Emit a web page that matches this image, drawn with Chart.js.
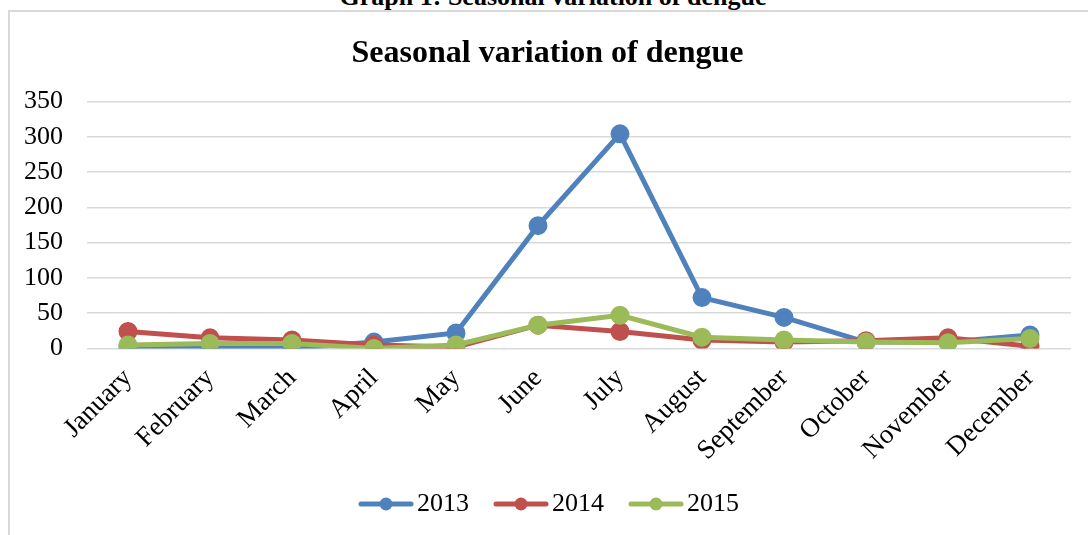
<!DOCTYPE html>
<html>
<head>
<meta charset="utf-8">
<script src="https://cdn.jsdelivr.net/npm/chart.js@4"></script>
<style>
  html, body { margin: 0; padding: 0; background: #fff; overflow: hidden; }
  body { width: 1088px; height: 535px; position: relative; font-family: "Liberation Serif", serif; }
  .legenda { position: absolute; top: -18px; left: 0; width: 1106px; text-align: center;
             font: bold 26px "Liberation Serif", serif; color: #000; }
  .moldura { position: absolute; left: 8px; top: 10px; width: 1100px; height: 540px;
             border: 2px solid #d9d9d9; box-sizing: border-box; background: #fff; }
  .caixa { position: absolute; left: 9px; top: 12px; width: 1088px; height: 523px; }
</style>
</head>
<body>
<div class="legenda">Graph 1: Seasonal variation of dengue</div>
<div class="moldura"></div>
<div class="caixa"><canvas id="g"></canvas></div>
<script>
  // dados
  const meses = ["January", "February", "March", "April", "May", "June",
                 "July", "August", "September", "October", "November", "December"];
  const anos = ["2013", "2014", "2015"];
  const casos2013 = [3, 0, 0, 9, 22, 174, 304, 72, 44, 9, 9, 19];
  const casos2014 = [24, 15, 12, 5, 2, 33, 24, 12, 9, 11, 15, 3];
  const casos2015 = [5, 7, 7, 0, 5, 33, 47, 16, 12, 9, 8, 14];
  const ticksY = [0, 50, 100, 150, 200, 250, 300, 350];

  const CORES = { azul: "#4F81BD", vermelho: "#C0504D", verde: "#9BBB59" };
  const FONTE = "'Liberation Serif', 'Times New Roman', serif";

  // ícone da legenda: linha com bolinha no meio (estilo Excel)
  // a imagem é mais larga que a caixa para encostar a linha no texto
  function iconeLegenda(cor) {
    const c = document.createElement("canvas");
    c.width = 68; c.height = 16;
    const ctx = c.getContext("2d");
    ctx.strokeStyle = cor; ctx.lineWidth = 5; ctx.lineCap = "round";
    ctx.beginPath(); ctx.moveTo(15, 8); ctx.lineTo(65, 8); ctx.stroke();
    ctx.fillStyle = cor;
    ctx.beginPath(); ctx.arc(40, 8, 6.5, 0, Math.PI * 2); ctx.fill();
    return c;
  }

  function serie(label, data, cor, ordem) {
    return {
      label, data, order: ordem,
      borderColor: cor, backgroundColor: cor,
      borderWidth: 5, pointRadius: 7, pointHoverRadius: 7,
      pointBackgroundColor: cor, pointBorderColor: cor,
      pointStyle: "circle", tension: 0,
    };
  }

  const icones = [iconeLegenda(CORES.azul), iconeLegenda(CORES.vermelho), iconeLegenda(CORES.verde)];

  new Chart(document.getElementById("g"), {
    type: "line",
    data: {
      labels: meses,
      datasets: [
        serie(anos[0], casos2013, CORES.azul, 2),
        serie(anos[1], casos2014, CORES.vermelho, 1),
        serie(anos[2], casos2015, CORES.verde, 0),
      ],
    },
    options: {
      responsive: true, maintainAspectRatio: false, animation: false,
      layout: { padding: { left: 15, right: 26, top: 8, bottom: 8 } },
      plugins: {
        title: {
          display: true, text: "Seasonal variation of dengue", color: "#000",
          font: { family: FONTE, size: 32, weight: "bold" },
          padding: { top: 15, bottom: 28 },
        },
        legend: {
          position: "bottom",
          labels: {
            usePointStyle: true, pointStyleWidth: 48, padding: 22,
            color: "#000", font: { family: FONTE, size: 26 },
            generateLabels: (chart) => chart.data.datasets.map((d, i) => ({
              text: d.label, pointStyle: icones[i], fillStyle: d.borderColor,
              strokeStyle: d.borderColor, lineWidth: 0, datasetIndex: i, hidden: false,
            })),
          },
        },
        tooltip: { enabled: false },
      },
      scales: {
        x: {
          offset: true,
          grid: { display: false, drawTicks: false },
          border: { display: false },
          ticks: {
            color: "#000", font: { family: FONTE, size: 27 }, autoSkip: false,
            minRotation: 45, maxRotation: 45, padding: 14,
          },
          // rótulo "January" não deve empurrar a área do gráfico
          afterFit: (s) => { s.paddingLeft = 0; s.height -= 12; },
        },
        y: {
          min: 0, max: 350,
          afterBuildTicks: (ax) => { ax.ticks = ticksY.map((v) => ({ value: v })); },
          afterFit: (s) => { s.width = 63; },
          grid: { color: "#d9d9d9", lineWidth: 1.5, drawTicks: false },
          border: { display: false },
          ticks: { color: "#000", font: { family: FONTE, size: 26 }, padding: 24, autoSkip: false },
        },
      },
    },
  });
</script>
</body>
</html>
